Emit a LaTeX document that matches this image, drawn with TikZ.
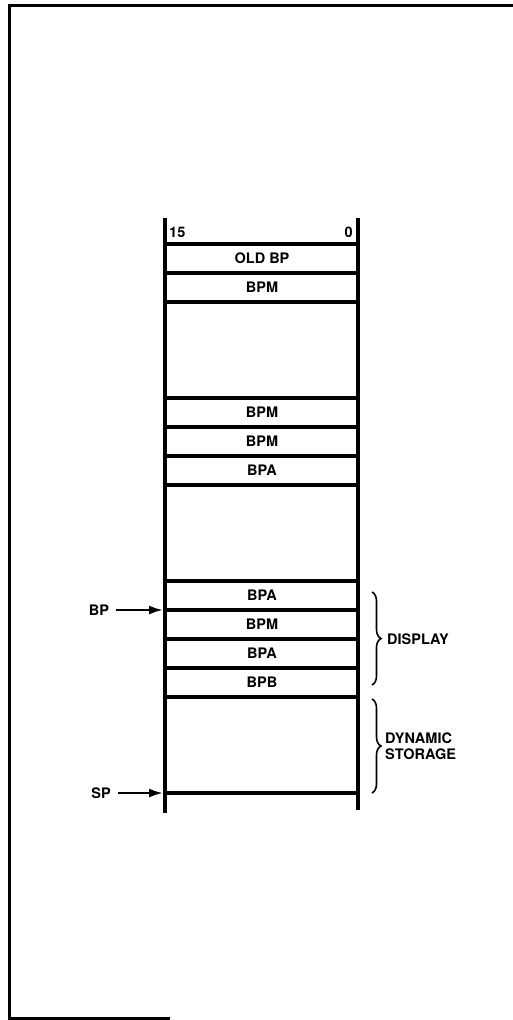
\documentclass[tikz,border=0pt]{standalone}
\usepackage{fontspec}
\setmainfont{TeX Gyre Heros}
\usetikzlibrary{decorations.pathreplacing,arrows.meta}
\begin{document}
\begin{tikzpicture}[x=1pt,y=-1pt,
  lbl/.style={font=\fontsize{14.5}{16}\selectfont\bfseries, inner sep=2pt},
  hline/.style={line width=3.4pt},
  vline/.style={line width=4pt},
  frame/.style={line width=3pt},
  ptr/.style={line width=2.2pt, shorten <=5pt, -{Latex[length=14pt,width=9pt]}},
  brc/.style={line width=1.6pt, decorate, decoration={brace, amplitude=9pt}}]
\useasboundingbox (0,0) rectangle (513,1020);
% frame
\draw[frame] (170,1018.5) -- (9.5,1018.5) -- (9.5,5.5) -- (513,5.5);
% stack walls
\draw[vline] (165,218) -- (165,813);
\draw[vline] (358,218) -- (358,810);
% row separators
\foreach \yy in {244,273,302,398,427,456,485,581,610,639,668,697,793}
  \draw[hline] (165,\yy) -- (358,\yy);
% header
\node[lbl, anchor=west] (b15) at (167,232) {15};
\node[lbl, anchor=east] (b0) at (355,232) {0};
% cells
\node[lbl] (c1) at (262,258.5) {OLD BP};
\node[lbl] (c2) at (262,287.5) {BPM};
\node[lbl] (c3) at (262,412.5) {BPM};
\node[lbl] (c4) at (262,441.5) {BPM};
\node[lbl] (c5) at (262,470.5) {BPA};
\node[lbl] (c6) at (262,595.5) {BPA};
\node[lbl] (c7) at (262,624.5) {BPM};
\node[lbl] (c8) at (262,653.5) {BPA};
\node[lbl] (c9) at (262,682.5) {BPB};
% pointers
\node[lbl] (bp) at (99,610) {BP};
\coordinate (bpend) at (163,610);
\draw[ptr] (bp.east) -- (bpend);
\node[lbl] (sp) at (101,793) {SP};
\coordinate (spend) at (163,793);
\draw[ptr] (sp.east) -- (spend);
% braces
\coordinate (d1) at (372,592);
\coordinate (d2) at (372,685);
\draw[brc] (d1) -- (d2);
\node[lbl, anchor=west] (disp) at (385,639) {DISPLAY};
\coordinate (s1) at (372,699);
\coordinate (s2) at (372,793);
\draw[brc] (s1) -- (s2);
\node[lbl, anchor=west, align=left] (dyn) at (383,746) {DYNAMIC\\STORAGE};
\end{tikzpicture}
\end{document}
